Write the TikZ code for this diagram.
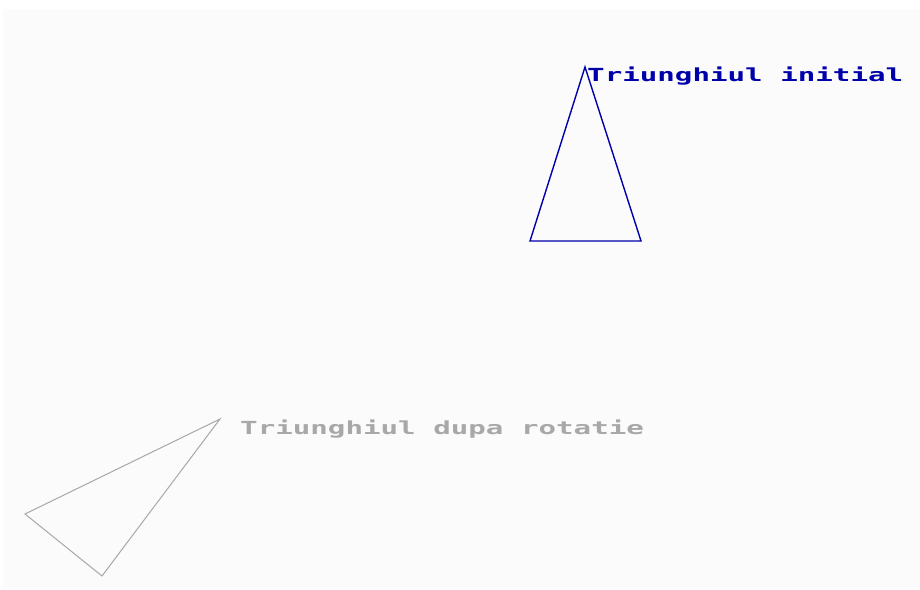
\documentclass[tikz,border=0pt]{standalone}
\usepackage{fontspec}
\newfontfamily\pixfont[FakeStretch=1.62]{DejaVu Sans Mono}
\usetikzlibrary{positioning}
\definecolor{bgi}{HTML}{0000AA}
\definecolor{lgrey}{HTML}{A8A8A8}
\definecolor{canvas}{HTML}{FBFBFB}
\tikzset{
  txtlbl/.style={font=\pixfont\bfseries\fontsize{18}{18}\selectfont,inner sep=0pt,anchor=base west},
  tri/.style={line join=miter}}

\begin{document}
\begin{tikzpicture}[x=1pt,y=-1pt]
  \useasboundingbox (0,0) rectangle (920,589);
  \fill[canvas] (3,9) rectangle (920,588);
  % triunghiul initial
  \coordinate (a) at (585,67);
  \coordinate (b) at (530,241);
  \coordinate (c) at (641,241);
  \draw[tri,bgi,line width=1.4pt] (a) -- (b) -- (c) -- cycle;
  \node[txtlbl,text=bgi] (ti) at (587,81.5) {Triunghiul initial};
  % dupa rotatie
  \coordinate (ra) at (220,419);
  \coordinate (rb) at (25,514);
  \coordinate (rc) at (102,576);
  \draw[tri,lgrey,line width=1pt] (ra) -- (rb) -- (rc) -- cycle;
  \node[txtlbl,text=lgrey] (tr) at (240,434) {Triunghiul dupa rotatie};
\end{tikzpicture}
\end{document}
